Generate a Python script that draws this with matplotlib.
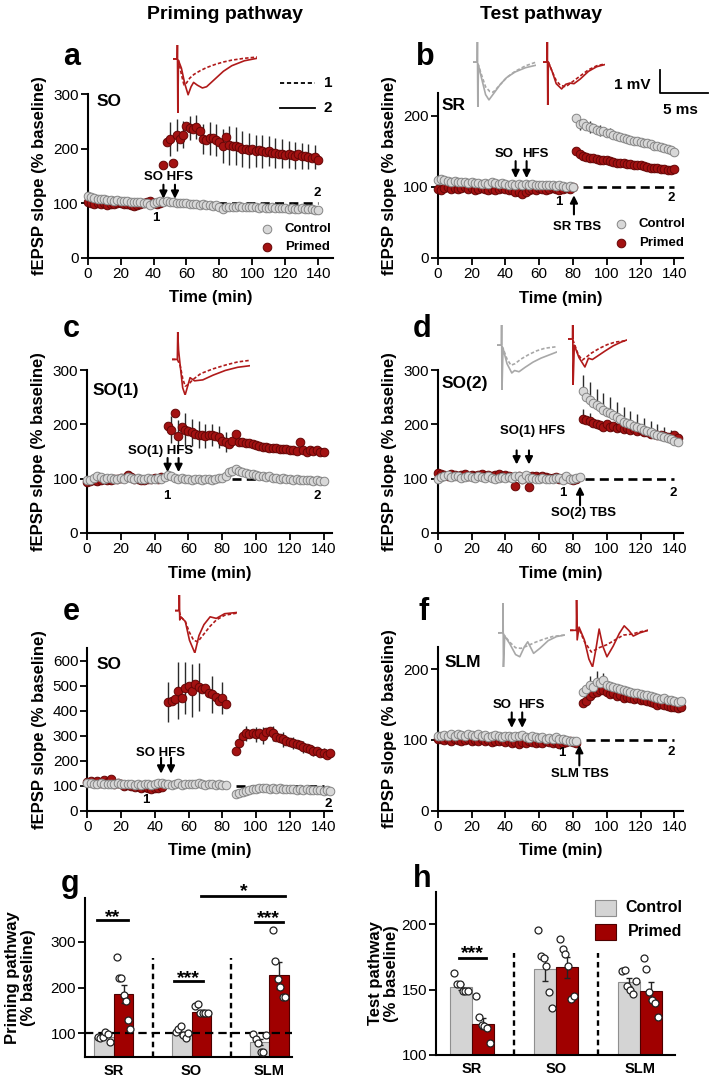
import numpy as np
import matplotlib
matplotlib.use('Agg')
import matplotlib.pyplot as plt
from matplotlib.lines import Line2D
from matplotlib.patches import Rectangle

plt.rcParams['font.family'] = ['Liberation Sans', 'DejaVu Sans']
plt.rcParams['lines.scale_dashes'] = False

W, H = 709, 1081
RED, RED_E = '#a31212', '#650606'
GREY, GREY_E = '#d8d8d8', '#858585'
TR_RED, TR_GREY = '#b01a1a', '#a8a8a8'

# ---------------- time courses (% baseline, every 2 min) ----------------
# a: priming pathway SO
a_ctrl_t = np.arange(0, 141, 2)
a_ctrl = [113, 111, 109, 108, 107, 107, 106, 106, 105, 106,
          105, 104, 104, 103, 103, 102, 103, 101, 100, 96,
          101, 103, 104, 103, 104, 103, 102, 101, 100, 101,
          100, 99, 98, 98, 97, 99, 96, 97, 95, 97,
          94, 90, 93, 94, 93, 94, 95, 93, 94, 93,
          94, 93, 92, 93, 92, 91, 93, 92, 91, 92,
          91, 90, 91, 90, 89, 91, 90, 89, 90, 88, 88]
a_prim_t = np.arange(0, 141, 2)
a_prim = [103, 100, 99, 101, 98, 100, 97, 99, 98, 100,
          101, 99, 98, 97, 95, 96, 98, 101, 102, 104,
          100, 99, 101,
          170, 212, 218, 174, 225, 218, 226, 241, 238, 236,
          240, 232, 218, 217, 219, 220, 216, 212, 205, 222,
          206, 205, 205, 203, 200, 200, 197, 200, 196, 198,
          195, 194, 196, 193, 192, 190, 191, 189, 190, 188,
          187, 190, 187, 186, 185, 183, 185, 180]
a_prim_err_t = [50, 54, 58, 62, 66, 70, 74, 78, 82, 86, 90, 94, 98, 102,
                106, 110, 114, 118, 122, 126, 130, 134, 138]
a_prim_err = [32, 30, 25, 22, 22, 28, 30, 30, 32, 35, 35, 33, 32, 30,
              30, 28, 28, 27, 25, 25, 24, 23, 22]

# b: test pathway SR
b_ctrl_t = np.arange(0, 141, 2)
b_ctrl = [110, 111, 109, 108, 107, 108, 106, 107, 106, 105,
          106, 105, 105, 104, 105, 104, 106, 105, 104, 105,
          104, 103, 104, 103, 104, 103, 104, 103, 104, 103,
          102, 103, 102, 103, 102, 101, 102, 101, 100, 101, 99,
          197, 188, 190, 186, 184, 182, 180, 179, 178, 176,
          175, 173, 172, 170, 168, 167, 166, 165, 164, 163,
          162, 161, 160, 158, 157, 156, 155, 153, 152, 149]
b_prim_t = np.arange(0, 141, 2)
b_prim = [97, 96, 98, 99, 97, 98, 97, 98, 99, 97,
          98, 96, 97, 98, 97, 96, 97, 96, 97, 98,
          97, 96, 95, 92, 93, 90, 92, 95, 97, 96,
          98, 97, 96, 97, 98, 97, 96, 97, 98, 97, 99,
          150, 146, 143, 142, 141, 140, 139, 138, 137, 137,
          136, 135, 134, 134, 133, 132, 132, 131, 130, 130,
          129, 128, 127, 127, 126, 125, 125, 124, 124, 125]
b_ctrl_err_t = [84, 90, 96, 102, 108]
b_ctrl_err = [8, 8, 8, 7, 6]

# c: priming pathway SO(1)
c_ctrl_t = np.arange(0, 141, 2)
c_ctrl = [98, 97, 101, 104, 103, 100, 101, 102, 100, 99,
          101, 100, 103, 102, 100, 101, 99, 100, 101, 99,
          100, 102, 100, 103, 106, 104, 102, 100, 101, 99,
          100, 98, 100, 99, 98, 99, 100, 98, 99, 101, 102, 104,
          112, 115, 117, 114, 112, 110, 109, 108, 106, 105,
          104, 103, 104, 102, 101, 100, 101, 99, 100, 98,
          99, 98, 97, 98, 97, 96, 97, 96, 95]
c_prim_t = np.r_[np.arange(0, 45, 2), np.arange(48, 141, 2)]
c_prim = [93, 95, 97, 96, 98, 99, 97, 98, 100, 99,
          101, 102, 106, 103, 100, 99, 98, 97, 99, 100,
          101, 100, 103,
          197, 190, 221, 178, 196, 190, 187, 185, 183, 181,
          180, 178, 180, 181, 178, 177, 169, 168, 163, 170,
          183, 168, 167, 166, 165, 163, 162, 160, 158, 159,
          157, 156, 157, 155, 154, 155, 153, 152, 151, 167,
          153, 150, 152, 151, 153, 150, 149]
c_prim_err_t = [50, 54, 58, 62, 66, 70, 74, 78, 82]
c_prim_err = [25, 30, 30, 25, 25, 22, 20, 20, 18]

# d: test pathway SO(2)
d_ctrl_t = np.r_[np.arange(0, 85, 2), np.arange(86, 143, 2)]
d_ctrl = [100, 103, 104, 106, 103, 104, 105, 102, 103, 104,
          103, 102, 104, 103, 101, 104, 102, 100, 102, 103,
          101, 103, 102, 104, 105, 100, 106, 101, 102, 100,
          99, 101, 100, 99, 100, 102, 101, 98, 104, 100,
          99, 101, 103,
          262, 250, 245, 240, 235, 232, 227, 223, 220, 217,
          213, 210, 205, 203, 200, 197, 195, 193, 190, 188,
          186, 183, 181, 179, 177, 175, 173, 170, 167]
d_prim_t = np.r_[np.arange(0, 83, 2), np.arange(86, 143, 2)]
d_prim = [110, 108, 106, 105, 108, 107, 104, 106, 108, 105,
          107, 104, 106, 108, 105, 107, 104, 106, 108, 105,
          106, 104, 103, 87, 104, 100, 103, 84, 105, 104,
          102, 104, 103, 101, 102, 103, 100, 102, 101, 99,
          98, 100,
          210, 208, 206, 203, 200, 198, 196, 200, 195, 197,
          193, 195, 192, 194, 190, 192, 188, 190, 186, 185,
          183, 182, 180, 180, 178, 177, 176, 180, 174]
d_ctrl_err_t = [86, 90, 94, 98, 102, 106, 110, 114, 118, 122, 126, 130, 134, 138]
d_ctrl_err = [28, 32, 30, 30, 30, 28, 27, 25, 24, 22, 20, 20, 18, 16]
d_prim_err_t = [86, 90]
d_prim_err = [18, 15]

# e: priming pathway SO
e_ctrl_t = np.r_[np.arange(0, 83, 2), np.arange(88, 145, 2)]
e_ctrl = [112, 110, 108, 107, 110, 106, 108, 105, 107, 109,
          106, 108, 105, 107, 104, 106, 103, 108, 105, 104,
          106, 109, 112, 105, 108, 103, 107, 110, 104, 106,
          108, 105, 107, 110, 106, 104, 108, 105, 103, 106,
          104, 103,
          65, 70, 75, 80, 82, 85, 88, 90, 92, 90,
          88, 90, 87, 89, 86, 88, 85, 87, 84, 86,
          83, 85, 82, 84, 81, 83, 80, 82, 79]
e_prim_t = np.r_[np.arange(0, 45, 2), np.arange(48, 83, 2), np.arange(88, 145, 2)]
e_prim = [115, 120, 112, 118, 110, 122, 116, 128, 105, 112,
          108, 100, 104, 98, 95, 100, 92, 96, 90, 88,
          92, 90, 95,
          435, 440, 445, 480, 450, 490, 500, 480, 505, 495,
          485, 490, 470, 465, 455, 440, 450, 425,
          240, 270, 300, 310, 308, 310, 305, 312, 300, 315,
          320, 310, 295, 290, 285, 280, 275, 270, 265, 262,
          255, 250, 245, 240, 238, 232, 230, 222, 230]
e_prim_err_t = [48, 54, 58, 62, 66, 74, 80,
                90, 94, 100, 104, 110, 116, 122, 128, 134, 140]
e_prim_err = [80, 115, 105, 105, 95, 75, 65,
              30, 30, 30, 35, 30, 30, 25, 25, 20, 20]

# f: test pathway SLM
f_ctrl_t = np.r_[np.arange(0, 83, 2), np.arange(86, 145, 2)]
f_ctrl = [106, 105, 107, 106, 108, 105, 109, 107, 106, 108,
          107, 106, 108, 105, 107, 104, 106, 107, 105, 104,
          106, 105, 104, 106, 105, 107, 104, 103, 105, 104,
          103, 104, 102, 103, 102, 104, 101, 102, 100, 99,
          98, 99,
          168, 172, 178, 175, 182, 180, 185, 178, 176, 175,
          173, 172, 170, 169, 168, 167, 166, 165, 163, 164,
          162, 161, 160, 158, 159, 157, 156, 155, 154, 155]
f_prim_t = np.r_[np.arange(0, 83, 2), np.arange(86, 145, 2)]
f_prim = [102, 101, 100, 102, 99, 101, 100, 98, 100, 101,
          99, 100, 98, 101, 99, 100, 97, 99, 98, 100,
          97, 98, 96, 97, 95, 97, 96, 98, 97, 96,
          97, 96, 98, 97, 96, 97, 95, 96, 97, 98,
          97, 96,
          152, 155, 162, 166, 168, 170, 170, 168, 165, 166,
          162, 163, 160, 161, 159, 158, 160, 157, 156, 155,
          154, 152, 150, 151, 149, 148, 147, 146, 145, 147]
f_ctrl_err_t = [90, 94, 98]
f_ctrl_err = [12, 15, 10]

# ---------------- summary bars ----------------
groups = ['SR', 'SO', 'SLM']
g_ctrl_mean = [92, 98, 80]
g_ctrl_sem = [3, 4, 7]
g_prim_mean = [186, 147, 227]
g_prim_sem = [20, 4, 30]
g_ctrl_pts = [[92, 90, 92, 103, 98, 80], [103, 109, 115, 96, 90, 100], [98, 86, 79, 59, 59, 95]]
g_prim_pts = [[266, 222, 222, 183, 171, 128, 108], [159, 164, 145, 145, 145, 143],
              [326, 259, 218, 202, 180, 180]]

h_ctrl_mean = [152, 166, 156]
h_ctrl_sem = [2, 9, 3]
h_prim_mean = [124, 167, 149]
h_prim_sem = [4, 8, 7]
h_ctrl_pts = [[163, 154, 154, 149, 149, 149], [196, 176, 174, 168, 148, 136], [164, 165, 153, 150, 147, 157]]
h_prim_pts = [[145, 129, 123, 122, 121, 109], [189, 181, 177, 168, 143, 145], [174, 166, 148, 142, 140, 129]]

# ---------------- example traces (ms, mV) ----------------
tr_a = ([0, 1.0, 1.05, 1.15, 1.3, 2.0, 2.8, 3.6, 4.3, 4.9, 5.8, 7.0, 8.0, 10, 12, 14, 17, 20],
        [0, 0, 0.45, -1.75, -0.05, -0.3, -0.8, -1.16, -0.9, -0.76, -0.85, -0.94, -0.9, -0.65, -0.4, -0.22, -0.06, 0.02],
        [0, 1.0, 1.3, 2.0, 2.6, 3.2, 4.0, 5.0, 6.5, 8.0, 10, 12, 14, 17, 20],
        [0, 0, -0.05, -0.5, -0.84, -0.78, -0.62, -0.5, -0.38, -0.28, -0.18, -0.1, -0.04, 0.02, 0.06])
tr_b_ctrl = ([0, 1.0, 1.05, 1.15, 1.3, 2.0, 3.0, 3.8, 5, 6.5, 8, 10, 12.5, 15],
             [0, 0, 0.65, -1.45, -0.1, -0.5, -1.05, -1.22, -1.0, -0.72, -0.5, -0.32, -0.18, -0.1],
             [0, 1.0, 1.3, 2.0, 3.0, 4.0, 4.8, 6, 8, 10, 12.5, 15],
             [0, 0, -0.1, -0.4, -0.8, -0.95, -0.97, -0.8, -0.5, -0.3, -0.12, 0])
tr_b_prim = ([0, 1.0, 1.05, 1.15, 1.3, 2.2, 3.2, 4.5, 5.5, 6.5, 7.5, 9, 11, 13, 15],
             [0, 0, 0.65, -1.39, 0, -0.3, -0.7, -0.87, -0.72, -0.68, -0.7, -0.55, -0.3, -0.15, -0.08],
             [0, 1.0, 1.3, 2.2, 3.2, 4.2, 5.5, 7, 9, 11, 13, 15],
             [0, 0, 0, -0.3, -0.6, -0.75, -0.8, -0.65, -0.45, -0.25, -0.12, -0.06])
tr_c = ([0, 1.3, 1.4, 1.6, 2.0, 2.6, 3.2, 4.4, 5.5, 7.5, 10, 13, 16, 19],
        [0, 0, 0.87, 0.3, -0.2, -0.9, -1.13, -0.58, -0.68, -0.65, -0.5, -0.35, -0.25, -0.2],
        [0, 1.3, 2.0, 2.6, 3.2, 4.0, 5.0, 7, 10, 13, 16, 19],
        [0, 0, -0.2, -0.6, -0.85, -0.8, -0.65, -0.45, -0.3, -0.18, -0.08, -0.03])
tr_d_ctrl = ([0, 1.1, 1.15, 1.25, 1.5, 2.5, 3.7, 4.4, 5.5, 7, 9, 11, 13, 15],
             [0, 0, 0.65, -1.45, -0.1, -0.6, -0.9, -0.82, -0.86, -0.72, -0.55, -0.42, -0.32, -0.22],
             [0, 1.1, 1.5, 2.5, 3.5, 4.5, 6, 8, 10, 12, 15],
             [0, 0, -0.1, -0.45, -0.65, -0.6, -0.45, -0.3, -0.18, -0.1, -0.05])
tr_d_prim = ([0, 1.15, 1.2, 1.3, 1.6, 2.8, 4.3, 5.2, 6.2, 7.5, 9.5, 11.5, 13.5, 15],
             [0, 0, 0.45, -1.48, -0.2, -0.6, -0.9, -0.62, -0.66, -0.55, -0.38, -0.22, -0.1, -0.03],
             [0, 1.15, 1.6, 2.6, 3.6, 4.5, 6, 8, 10, 12, 15],
             [0, 0, -0.15, -0.5, -0.68, -0.6, -0.45, -0.3, -0.18, -0.1, -0.05])
tr_e = ([0, 1.0, 1.05, 1.15, 1.4, 2.5, 3.5, 4.8, 5.8, 7.0, 8.5, 10, 12, 15],
        [0, 0, 0.5, -0.3, -0.2, -0.35, -0.95, -1.36, -0.8, -0.45, -0.2, -0.25, -0.1, -0.06],
        [0, 1.0, 1.4, 2.5, 3.5, 4.5, 5.5, 7, 8.5, 10, 12, 15],
        [0, 0, -0.2, -0.35, -0.7, -0.95, -1.0, -0.75, -0.5, -0.3, -0.15, -0.08])
tr_f_ctrl = ([0, 1.15, 1.2, 1.3, 1.6, 2.8, 4.2, 5.2, 6.3, 7.1, 8.5, 10, 12, 14, 16],
             [0, 0, 0.96, -1.1, -0.1, -0.35, -0.7, -0.77, -0.45, -0.29, -0.66, -0.5, -0.25, -0.12, -0.07],
             [0, 1.15, 1.6, 2.8, 4.2, 5.5, 7, 9, 11, 13, 16],
             [0, 0, -0.1, -0.3, -0.48, -0.5, -0.42, -0.3, -0.2, -0.12, -0.07])
tr_f_prim = ([0, 1.55, 1.6, 1.75, 2.2, 3.5, 4.6, 5.5, 6.3, 7.1, 8.0, 9.0, 10.5, 12, 13.2, 14.3, 15.4, 17, 19],
             [0, 0, 0.95, -0.3, 0.1, -0.3, -0.9, -1.15, -0.6, 0.04, -0.5, -0.83, -0.5, -0.1, 0.14, 0.0, -0.18, -0.08, 0.0],
             [0, 1.55, 2.2, 3.5, 5.2, 7, 9, 11, 13, 15, 17, 19],
             [0, 0, 0.05, -0.35, -0.68, -0.55, -0.45, -0.3, -0.15, -0.12, -0.05, 0.0])

fig = plt.figure(figsize=(W / 100, H / 100), dpi=100)


def px_ax(l, t, r, b):
    return fig.add_axes([l / W, 1 - b / H, (r - l) / W, (b - t) / H])


def ftext(x, y, s, **kw):
    fig.text(x / W, 1 - y / H, s, **kw)


def fline(xs, ys, **kw):
    fig.add_artist(Line2D([x / W for x in xs], [1 - y / H for y in ys], **kw))


def course(ax, xmax, ymax, yticks):
    ax.set_xlim(0, xmax)
    ax.set_ylim(0, ymax)
    ax.set_xticks(range(0, 141, 20))
    ax.set_yticks(yticks)
    for s in ['top', 'right']:
        ax.spines[s].set_visible(False)
    for s in ['left', 'bottom']:
        ax.spines[s].set_linewidth(1.5)
    ax.tick_params(width=1.3, length=5, labelsize=11, pad=1.5)
    ax.set_xlabel('Time (min)', fontsize=12, fontweight='bold')
    ax.set_ylabel('fEPSP slope (% baseline)', fontsize=12, fontweight='bold')
    ax.xaxis.set_label_coords(0.5, -0.2)
    ax.yaxis.set_label_coords(-0.166, 0.5)


def dots(ax, t, y, kind, z):
    fc, ec = (GREY, GREY_E) if kind == 'c' else (RED, RED_E)
    ax.plot(t, y, 'o', ms=6.2, mfc=fc, mec=ec, mew=0.7, zorder=z, clip_on=False)


def errs(ax, t, y, et, ee, up=False):
    look = dict(zip([int(v) for v in t], y))
    ym = np.array([look[v] for v in et], dtype=float)
    ee = np.array(ee, dtype=float)
    ax.vlines(et, ym if up else ym - ee, ym + ee, color='#2b2b2b', lw=1, zorder=2)


def base(ax, x0, x1=140):
    ax.plot([x0, x1], [100, 100], color='k', lw=1.9, dashes=(6.5, 3.8), zorder=1)


def arrow(ax, x, y0, y1):
    ax.annotate('', xy=(x, y1), xytext=(x, y0),
                arrowprops=dict(arrowstyle='-|>', color='k', lw=1.5, mutation_scale=11,
                                shrinkA=0, shrinkB=0))


def note(ax, x, y, s, **kw):
    ax.text(x, y, s, ha='center', va='center', fontsize=9.5, fontweight='bold', **kw)


def trace(rect, tr, color):
    ax = px_ax(*rect)
    ax.axis('off')
    ts, vs, td, vd = tr
    ax.plot(ts, vs, color=color, lw=1.2)
    ax.plot(td, vd, color=color, lw=1.2, dashes=(2.5, 1.5))
    ax.set_xlim(0, max(ts + td))
    ax.set_ylim(min(vs + vd), max(vs + vd))


def key(x, y, kind, label):
    fc, ec = (GREY, GREY_E) if kind == 'c' else (RED, RED_E)
    fline([x], [y], marker='o', ls='none', ms=6.2, mfc=fc, mec=ec, mew=0.7)
    ftext(x + 18, y, label, ha='left', va='center', fontsize=9.5, fontweight='bold')


# titles and panel letters
ftext(225, 19, 'Priming pathway', ha='center', va='baseline', fontsize=14, fontweight='bold')
ftext(541, 19, 'Test pathway', ha='center', va='baseline', fontsize=14, fontweight='bold')
for lab, x, y in [('a', 72, 65), ('b', 425, 65), ('c', 71, 337), ('d', 422, 337),
                  ('e', 71, 620), ('f', 424, 620), ('g', 70, 892), ('h', 422, 887)]:
    ftext(x, y, lab, ha='center', va='baseline', fontsize=22, fontweight='bold')

# ---- a ----
ax = px_ax(87.7, 94.3, 333, 257.7)
course(ax, 149, 300, [0, 100, 200, 300])
base(ax, 70)
errs(ax, a_prim_t, a_prim, a_prim_err_t, a_prim_err)
dots(ax, a_prim_t, a_prim, 'p', 3)
dots(ax, a_ctrl_t, a_ctrl, 'c', 4)
ax.text(5.5, 286, 'SO', fontsize=12.5, fontweight='bold', va='center')
note(ax, 49, 148, 'SO HFS')
arrow(ax, 46, 134, 108)
arrow(ax, 53, 134, 108)
note(ax, 41.5, 72, '1')
note(ax, 139.6, 118, '2')
key(266.7, 229, 'c', 'Control')
key(266.7, 247, 'p', 'Primed')
fline([280, 315], [83, 83], color='k', lw=1.3, dashes=(3, 2))
fline([280, 315], [108, 108], color='k', lw=1.3)
ftext(328, 83, '1', ha='center', va='center', fontsize=11, fontweight='bold')
ftext(328, 108, '2', ha='center', va='center', fontsize=11, fontweight='bold')
trace((173, 45, 257, 113), tr_a, TR_RED)

# ---- b ----
ax = px_ax(437.7, 93, 683.3, 257.7)
course(ax, 145.3, 232, [0, 100, 200])
base(ax, 86)
errs(ax, b_ctrl_t, b_ctrl, b_ctrl_err_t, b_ctrl_err)
dots(ax, b_prim_t, b_prim, 'p', 3)
dots(ax, b_ctrl_t, b_ctrl, 'c', 4)
ax.text(2.5, 215, 'SR', fontsize=12.5, fontweight='bold', va='center')
note(ax, 39.2, 145.6, 'SO')
note(ax, 57.6, 145.6, 'HFS')
arrow(ax, 46.1, 136, 112)
arrow(ax, 52.6, 136, 112)
note(ax, 71.4, 79, '1')
note(ax, 137.9, 84, '2')
arrow(ax, 80.6, 61, 88)
note(ax, 82.2, 43.7, 'SR TBS')
key(620.7, 224, 'c', 'Control')
key(620.7, 243, 'p', 'Primed')
fline([660, 660, 708], [70, 93, 93], color='k', lw=1.3)
ftext(650, 85, '1 mV', ha='right', va='center', fontsize=11, fontweight='bold')
ftext(680, 110, '5 ms', ha='center', va='center', fontsize=11, fontweight='bold')
trace((473, 42, 536, 107), tr_b_ctrl, TR_GREY)
trace((543, 42, 605, 105), tr_b_prim, TR_RED)

# ---- c ----
ax = px_ax(87, 370, 332, 533)
course(ax, 145, 300, [0, 100, 200, 300])
base(ax, 86)
errs(ax, c_prim_t, c_prim, c_prim_err_t, c_prim_err)
dots(ax, c_prim_t, c_prim, 'p', 3)
dots(ax, c_ctrl_t, c_ctrl, 'c', 4)
ax.text(3, 263, 'SO(1)', fontsize=12.5, fontweight='bold', va='center')
note(ax, 43.4, 151.5, 'SO(1) HFS')
arrow(ax, 47.7, 138, 112)
arrow(ax, 54.2, 138, 112)
note(ax, 47.3, 68, '1')
note(ax, 136, 68, '2')
trace((172, 332, 250, 395), tr_c, TR_RED)

# ---- d ----
ax = px_ax(437.7, 370, 683.3, 533)
course(ax, 145.3, 300, [0, 100, 200, 300])
base(ax, 87.2)
errs(ax, d_ctrl_t, d_ctrl, d_ctrl_err_t, d_ctrl_err, up=True)
errs(ax, d_prim_t, d_prim, d_prim_err_t, d_prim_err, up=True)
dots(ax, d_prim_t, d_prim, 'p', 3)
dots(ax, d_ctrl_t, d_ctrl, 'c', 4)
ax.text(2.5, 276, 'SO(2)', fontsize=12.5, fontweight='bold', va='center')
note(ax, 56.2, 187.7, 'SO(1) HFS')
arrow(ax, 46.7, 152, 126)
arrow(ax, 54, 152, 126)
note(ax, 74.3, 73, '1')
note(ax, 139.4, 73, '2')
arrow(ax, 84.2, 51, 86)
note(ax, 86.1, 36, 'SO(2) TBS')
trace((497, 325, 557, 390), tr_d_ctrl, TR_GREY)
trace((568, 325, 627, 385), tr_d_prim, TR_RED)

# ---- e ----
ax = px_ax(87.3, 648, 332, 810.7)
course(ax, 145, 651, [0, 100, 200, 300, 400, 500, 600])
base(ax, 88)
errs(ax, e_prim_t, e_prim, e_prim_err_t, e_prim_err)
dots(ax, e_prim_t, e_prim, 'p', 3)
dots(ax, e_ctrl_t, e_ctrl, 'c', 4)
ax.text(5.5, 583, 'SO', fontsize=12.5, fontweight='bold', va='center')
note(ax, 43.1, 232, 'SO HFS')
arrow(ax, 43.7, 212, 148)
arrow(ax, 49.6, 212, 148)
note(ax, 34.6, 43, '1')
note(ax, 143, 27, '2')
trace((175, 595, 237, 653), tr_e, TR_RED)

# ---- f ----
ax = px_ax(437.7, 647, 683.3, 810.7)
course(ax, 145.3, 231.5, [0, 100, 200])
base(ax, 87.7)
errs(ax, f_ctrl_t, f_ctrl, f_ctrl_err_t, f_ctrl_err, up=True)
dots(ax, f_prim_t, f_prim, 'p', 3)
dots(ax, f_ctrl_t, f_ctrl, 'c', 4)
ax.text(4, 209, 'SLM', fontsize=12.5, fontweight='bold', va='center')
note(ax, 37.9, 149.5, 'SO')
note(ax, 55.6, 149.5, 'HFS')
arrow(ax, 43.8, 139, 117)
arrow(ax, 50, 139, 117)
note(ax, 73.4, 81, '1')
note(ax, 137.9, 83.5, '2')
arrow(ax, 83.8, 64, 93)
note(ax, 84.2, 52, 'SLM TBS')
trace((498, 603, 565, 667), tr_f_ctrl, TR_GREY)
trace((570, 600, 648, 667), tr_f_prim, TR_RED)


# ---------------- bar panels ----------------
def bars(ax, cm, cs, pm, ps, cp, pp, w, ylo, yhi, sep_top, yticks, ylabel, lab_x):
    x = np.arange(len(groups))
    ax.bar(x - w / 2, cm, w, bottom=0, color='#d4d4d4', edgecolor='#8f8f8f', lw=0.8, zorder=2)
    ax.bar(x + w / 2, pm, w, bottom=0, color='#a00000', edgecolor='#4d0000', lw=0.8, zorder=2)
    ax.errorbar(x - w / 2, cm, yerr=cs, fmt='none', ecolor='#222222', elinewidth=1, capsize=2.5, zorder=3)
    ax.errorbar(x + w / 2, pm, yerr=ps, fmt='none', ecolor='#222222', elinewidth=1, capsize=2.5, zorder=3)
    for i in range(len(groups)):
        for xc, pts in ((x[i] - w / 2, cp[i]), (x[i] + w / 2, pp[i])):
            off = np.linspace(-0.32, 0.32, len(pts)) * w
            ax.plot(xc + off, pts, 'o', ms=5, mfc='white', mec='#222222', mew=0.9, zorder=6, clip_on=False)
    ax.vlines([0.5, 1.5], ylo, sep_top, colors='k', lw=1.7, linestyles=(0, (4, 3)), zorder=1)
    ax.set_ylim(ylo, yhi)
    ax.set_xticks(x)
    ax.set_xticklabels(groups, fontsize=10.5, fontweight='bold')
    ax.set_yticks(yticks)
    for s in ['top', 'right']:
        ax.spines[s].set_visible(False)
    for s in ['left', 'bottom']:
        ax.spines[s].set_linewidth(1.5)
    ax.tick_params(axis='y', width=1.3, length=5, labelsize=11, pad=1.5)
    ax.tick_params(axis='x', length=0, pad=5)
    ax.set_ylabel(ylabel, fontsize=12, fontweight='bold', linespacing=1.1)
    ax.yaxis.set_label_coords(lab_x, 0.5)


def sig(ax, x0, x1, y):
    ax.plot([x0, x1], [y, y], color='k', lw=2, clip_on=False, zorder=5)


ax = px_ax(85, 898.3, 292, 1056.7)
ax.set_xlim(-0.37, 2.29)
bars(ax, g_ctrl_mean, g_ctrl_sem, g_prim_mean, g_prim_sem, g_ctrl_pts, g_prim_pts,
     0.25, 48, 396, 265, [100, 200, 300], 'Priming pathway\n(% baseline)', -0.235)
ax.plot([-0.37, 2.29], [100, 100], color='k', lw=1.6, dashes=(6, 3.6), zorder=5)
sig(ax, -0.21, 0.18, 348)
sig(ax, 0.77, 1.15, 214)
sig(ax, 1.82, 2.17, 343)
sig(ax, 1.12, 2.2, 401)
ftext(113, 922, '**', ha='center', va='baseline', fontsize=14, fontweight='bold')
ftext(188, 983, '***', ha='center', va='baseline', fontsize=14, fontweight='bold')
ftext(268, 923, '***', ha='center', va='baseline', fontsize=14, fontweight='bold')
ftext(244, 896, '*', ha='center', va='baseline', fontsize=14, fontweight='bold')

ax = px_ax(436, 891.7, 675, 1055)
ax.set_xlim(-0.43, 2.42)
bars(ax, h_ctrl_mean, h_ctrl_sem, h_prim_mean, h_prim_sem, h_ctrl_pts, h_prim_pts,
     0.26, 100, 225, 178, [100, 150, 200], 'Test pathway\n(% baseline)', -0.155)
sig(ax, -0.16, 0.17, 174.4)
ftext(472, 958, '***', ha='center', va='baseline', fontsize=14, fontweight='bold')
fig.add_artist(Rectangle((595 / W, 1 - 916 / H), 21 / W, 16 / H, transform=fig.transFigure,
                         facecolor='#d4d4d4', edgecolor='#8f8f8f', lw=0.8))
fig.add_artist(Rectangle((595 / W, 1 - 940 / H), 21 / W, 16 / H, transform=fig.transFigure,
                         facecolor='#a00000', edgecolor='#4d0000', lw=0.8))
ftext(625, 908, 'Control', ha='left', va='center', fontsize=11.5, fontweight='bold')
ftext(628, 932, 'Primed', ha='left', va='center', fontsize=11.5, fontweight='bold')

fig.savefig('out.png', dpi=100)
